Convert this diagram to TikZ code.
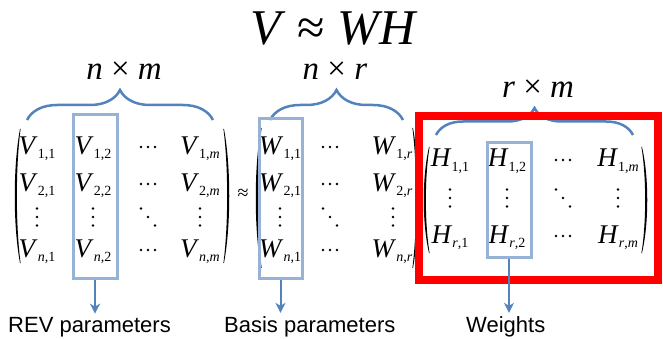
\documentclass[tikz,border=0pt]{standalone}
\usepackage{fontspec}
\setmainfont{Liberation Serif}
\newfontfamily\labelfont{Liberation Sans}
\usetikzlibrary{arrows.meta, decorations.pathreplacing}
\definecolor{bracecol}{RGB}{84,130,188}
\definecolor{colboxcol}{RGB}{150,178,212}
\definecolor{framered}{RGB}{255,0,0}

% matrix element: letter with lowered index
\newcommand{\mel}[2]{\textit{#1}\raisebox{-0.17em}{\fontsize{14}{14}\selectfont #2}}
% thin parentheses drawn as crescents: x of outer ink, top, bottom
\newcommand{\lpar}[3]{\fill (#1+6,#2) .. controls (#1-1,{0.72*#2+0.28*#3}) and (#1-1,{0.28*#2+0.72*#3}) .. (#1+6,#3)
  -- (#1+6.6,#3) .. controls (#1+1.6,{0.28*#2+0.72*#3}) and (#1+1.6,{0.72*#2+0.28*#3}) .. (#1+6.6,#2) -- cycle;}
\newcommand{\rpar}[3]{\fill (#1-6,#2) .. controls (#1+1,{0.72*#2+0.28*#3}) and (#1+1,{0.28*#2+0.72*#3}) .. (#1-6,#3)
  -- (#1-6.6,#3) .. controls (#1-1.6,{0.28*#2+0.72*#3}) and (#1-1.6,{0.72*#2+0.28*#3}) .. (#1-6.6,#2) -- cycle;}

\tikzset{
  ent/.style={font=\fontsize{27}{27}\selectfont, inner sep=0pt, anchor=base},
  dimlbl/.style={font=\fontsize{33}{33}\selectfont, inner sep=0pt, anchor=base},
  lbl/.style={font=\labelfont\fontsize{22}{22}\selectfont, inner sep=0pt, anchor=base west},
  brc/.style={decorate, bracecol, line width=2.5pt},
  colbox/.style={draw=colboxcol, line width=3pt, inner sep=0pt},
  redframe/.style={draw=framered, line width=8pt, inner sep=0pt},
  arr/.style={-{Stealth[length=10pt, width=10pt, inset=3pt]}, bracecol, line width=2pt, shorten >=3pt},
  cdotsp/.pic={\foreach \i in {-1,0,1} \fill (7*\i,0) circle (1.4);},
  vdotsp/.pic={\foreach \i in {-1,0,1} \fill (0,8.5*\i) circle (1.4);},
  ddotsp/.pic={\foreach \i in {-1,0,1} \fill (7*\i,8.5*\i) circle (1.4);}
}

\begin{document}
\begin{tikzpicture}[x=1pt, y=-1pt]
  \useasboundingbox (0,0) rectangle (663,339);

  % title
  \node[font=\fontsize{50}{50}\selectfont, inner sep=0pt, anchor=base] (ttl) at (334,45)
    {\textit{V}\hspace{0.25em}≈\hspace{0.25em}\textit{WH}};

  % V matrix
  \lpar{14}{129}{263}
  \rpar{230}{129}{263}
  \foreach \row/\rs/\yy in {1/1/154, 2/2/191, n/\textit{n}/257}{
    \node[ent] (v\row1) at (37,\yy) {\mel{V}{\rs,1}};
    \node[ent] (v\row2) at (93,\yy) {\mel{V}{\rs,2}};
    \node[ent] (v\row m) at (200,\yy) {\mel{V}{\rs,\textit{m}}};
    \pic at (148,\yy-7) {cdotsp};
  }
  \pic at (37,217) {vdotsp};
  \pic at (93,217) {vdotsp};
  \pic at (148,217) {ddotsp};
  \pic at (200,217) {vdotsp};

  \node[font=\fontsize{20}{20}\selectfont, inner sep=0pt] (approx) at (243,194) {≈};

  % W matrix
  \lpar{255}{128}{268}
  \rpar{419}{128}{268}
  \foreach \row/\rs/\yy in {1/1/154, 2/2/191, n/\textit{n}/257}{
    \node[ent] (w\row1) at (280,\yy) {\mel{W}{\rs,1}};
    \node[ent] (w\row r) at (392,\yy) {\mel{W}{\rs,\textit{r}}};
    \pic at (330,\yy-7) {cdotsp};
  }
  \pic at (280,217) {vdotsp};
  \pic at (330,217) {ddotsp};
  \pic at (393,217) {vdotsp};

  % H matrix
  \lpar{423}{147}{253}
  \rpar{648}{147}{253}
  \foreach \row/\rs/\yy in {1/1/167, r/\textit{r}/243}{
    \node[ent] (h\row1) at (450,\yy) {\mel{H}{\rs,1}};
    \node[ent] (h\row2) at (507,\yy) {\mel{H}{\rs,2}};
    \node[ent] (h\row m) at (618,\yy) {\mel{H}{\rs,\textit{m}}};
    \pic at (563,\yy-7) {cdotsp};
  }
  \pic at (450,198) {vdotsp};
  \pic at (507,198) {vdotsp};
  \pic at (563,198) {ddotsp};
  \pic at (618,198) {vdotsp};

  % sizes over the braces
  \draw[brc, decoration={brace, amplitude=30pt}] (27,120) -- (213,120);
  \draw[brc, decoration={brace, amplitude=30pt}] (270,120) -- (403,120);
  \draw[brc, decoration={brace, amplitude=27pt}] (436,135) -- (633,135);
  \node[dimlbl] (dnm) at (124,80) {\textit{n}\hspace{0.25em}×\hspace{0.25em}\textit{m}};
  \node[dimlbl] (dnr) at (335,80) {\textit{n}\hspace{0.25em}×\hspace{0.25em}\textit{r}};
  \node[dimlbl] (drm) at (538,98) {\textit{r}\hspace{0.25em}×\hspace{0.25em}\textit{m}};

  % highlighted columns
  \node[colbox, minimum width=44pt, minimum height=163pt] (vbox) at (95,196.5) {};
  \node[colbox, minimum width=43pt, minimum height=159pt] (wbox) at (280.5,198.5) {};
  \node[colbox, minimum width=44pt, minimum height=114pt] (hbox) at (509,200) {};

  % frame round H
  \node[redframe, minimum width=239pt, minimum height=164pt] (hframe) at (538.5,198) {};

  % labels below
  \node[lbl] (revlbl) at (8,332) {REV parameters};
  \node[lbl] (basislbl) at (224,332) {Basis parameters};
  \node[lbl] (wlbl) at (466,332) {Weights};
  \draw[arr] (vbox.south) -- (vbox.south |- revlbl.north);
  \draw[arr] (wbox.south) -- (wbox.south |- basislbl.north);
  \draw[arr] (hbox.south) -- (hbox.south |- wlbl.north);
\end{tikzpicture}
\end{document}
